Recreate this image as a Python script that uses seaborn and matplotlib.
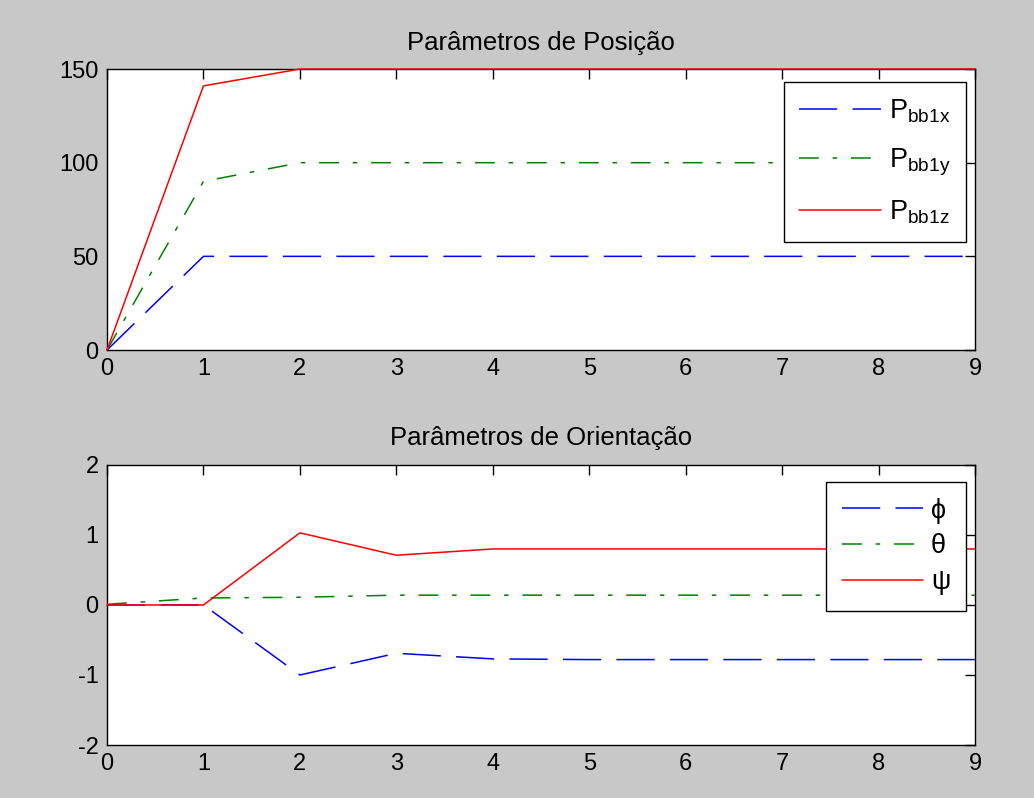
import numpy as np
import pandas as pd
import matplotlib
matplotlib.use("Agg")
import matplotlib.pyplot as plt
import seaborn as sns

# ── Data ──────────────────────────────────────────────────────────────────────
t = [0, 1, 2, 3, 4, 5, 6, 7, 8, 9]

p_bb1x = [0, 50, 50, 50, 50, 50, 50, 50, 50, 50]
p_bb1y = [0, 90, 100, 100, 100, 100, 100, 100, 100, 100]
p_bb1z = [0, 141, 150, 150, 150, 150, 150, 150, 150, 150]

phi   = [0, 0, -1.00, -0.69, -0.77, -0.78, -0.78, -0.78, -0.78, -0.78]
theta = [0.01, 0.10, 0.11, 0.14, 0.14, 0.14, 0.14, 0.14, 0.14, 0.14]
psi   = [0, 0, 1.03, 0.71, 0.80, 0.80, 0.80, 0.80, 0.80, 0.80]

pos_labels = [r"$\mathregular{P_{bb1x}}$", r"$\mathregular{P_{bb1y}}$", r"$\mathregular{P_{bb1z}}$"]
ori_labels = ["ϕ", "θ", "ψ"]
x_ticks = [0, 1, 2, 3, 4, 5, 6, 7, 8, 9]
pos_yticks = [0, 50, 100, 150]
ori_yticks = [-2, -1, 0, 1, 2]

# ── Style ─────────────────────────────────────────────────────────────────────
BG = "#c8c8c8"
STYLES = [
    {"color": "#0000ff", "linestyle": (0, (25, 10))},
    {"color": "#008000", "linestyle": (0, (13, 9, 3, 9))},
    {"color": "#ff0000", "linestyle": "-"},
]

sns.set_style("white")
plt.rcParams.update({
    "font.family": ["Liberation Sans", "DejaVu Sans"],
    "mathtext.fontset": "custom",
    "mathtext.rm": "Liberation Sans",
    "mathtext.it": "Liberation Sans",
    "axes.edgecolor": "black",
    "axes.linewidth": 1.0,
    "axes.unicode_minus": False,
    "text.color": "black",
})

fig = plt.figure(figsize=(10.34, 7.98), dpi=100, facecolor=BG)
ax1 = fig.add_axes([0.1035, 0.5614, 0.8395, 0.3521])
ax2 = fig.add_axes([0.1035, 0.0664, 0.8395, 0.3510])


def draw_panel(ax, series, labels, yticks, title, legend_anchor, labelspacing, fs):
    df = pd.DataFrame({"t": t})
    for vals, lab, st in zip(series, labels, STYLES):
        df["v"] = vals
        sns.lineplot(data=df, x="t", y="v", ax=ax, label=lab,
                     color=st["color"], linestyle=st["linestyle"],
                     linewidth=1.1, clip_on=False, zorder=3)
    ax.set_xlim(0, 9)
    ax.set_ylim(yticks[0], yticks[-1])
    ax.set_xticks(x_ticks)
    ax.set_yticks(yticks)
    ax.set_xlabel("")
    ax.set_ylabel("")
    ax.set_title(title, fontsize=18.5, pad=14, color="black")
    ax.tick_params(direction="in", length=7, width=1, labelsize=17,
                   top=True, right=True, pad=6, colors="black")
    for s in ax.spines.values():
        s.set_visible(True)
        s.set_color("black")
    leg = ax.legend(loc="upper right", bbox_to_anchor=legend_anchor,
                    fontsize=fs, frameon=True, fancybox=False, framealpha=1,
                    edgecolor="black", handlelength=3.0, handletextpad=0.3,
                    labelspacing=labelspacing, borderpad=0.58, borderaxespad=0)
    leg.get_frame().set_linewidth(1.0)
    leg.set_zorder(6)


draw_panel(ax1, [p_bb1x, p_bb1y, p_bb1z], pos_labels, pos_yticks,
           "Parâmetros de Posição", (0.9896, 0.954), 0.78, 19.5)
draw_panel(ax2, [phi, theta, psi], ori_labels, ori_yticks,
           "Parâmetros de Orientação", (0.9896, 0.939), 0.36, 19.5)

fig.savefig("out.png", dpi=100, facecolor=BG)
